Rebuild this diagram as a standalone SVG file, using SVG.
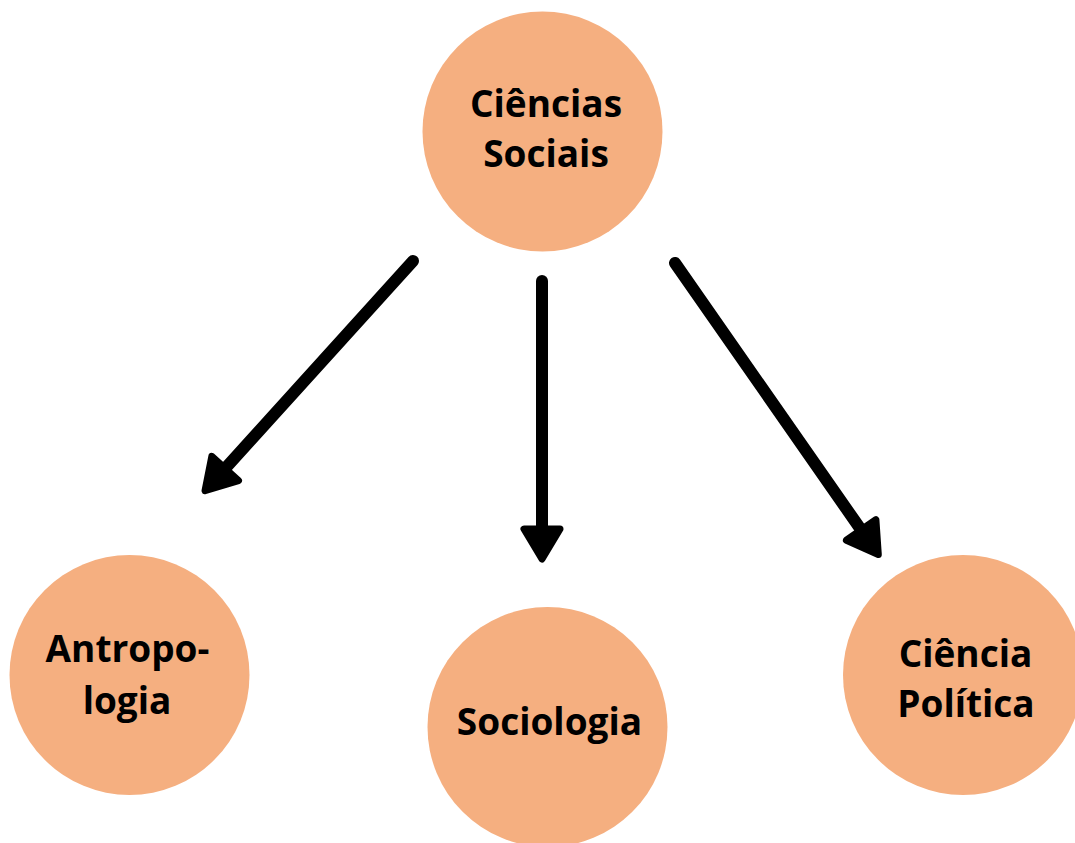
<svg xmlns="http://www.w3.org/2000/svg" width="1075" height="843" viewBox="0 0 1075 843">
<style>
.node{fill:#F5AF80}
.lbl{font-family:"Open Sans","Noto Sans","Liberation Sans",sans-serif;font-weight:700;font-size:37px;fill:#000;text-anchor:middle}
.conn{stroke:#000;stroke-width:12;stroke-linecap:round;fill:none}
</style>
<defs>
<marker id="ah" markerUnits="userSpaceOnUse" viewBox="-5 -30 50 60" markerWidth="50" markerHeight="60" refX="0" refY="0" orient="auto" overflow="visible">
<path d="M2,-18 L32,0 L2,18 Z" fill="#000" stroke="#000" stroke-width="7" stroke-linejoin="round"/>
</marker>
</defs>
<rect width="1075" height="843" fill="#fff"/>
<g id="connectors">
<line class="conn" x1="413" y1="261" x2="226.5" y2="467" marker-end="url(#ah)"/>
<line class="conn" x1="542" y1="281" x2="542" y2="527" marker-end="url(#ah)"/>
<line class="conn" x1="675" y1="263" x2="860" y2="528.3" marker-end="url(#ah)"/>
</g>
<g id="node-ciencias-sociais">
<circle class="node" cx="542.5" cy="131.5" r="120"/>
<text class="lbl" x="546" y="117">Ciências</text>
<text class="lbl" x="546" y="167">Sociais</text>
</g>
<g id="node-antropologia">
<circle class="node" cx="129.5" cy="675" r="120"/>
<text class="lbl" x="127.5" y="662">Antropo-</text>
<text class="lbl" x="127" y="714">logia</text>
</g>
<g id="node-sociologia">
<circle class="node" cx="547.5" cy="727" r="120"/>
<text class="lbl" x="549.5" y="735">Sociologia</text>
</g>
<g id="node-ciencia-politica">
<circle class="node" cx="963" cy="675" r="120"/>
<text class="lbl" x="965.5" y="667">Ciência</text>
<text class="lbl" x="966" y="717">Política</text>
</g>
</svg>
